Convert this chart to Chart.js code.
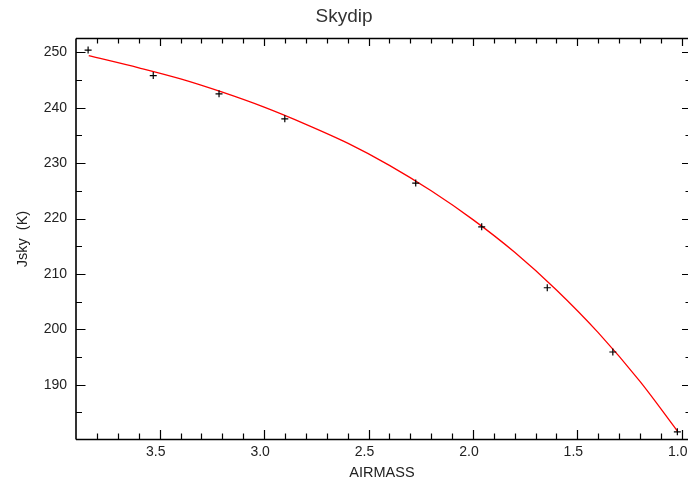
<!DOCTYPE html>
<html>
<head>
<meta charset="utf-8">
<title>Skydip</title>
<script src="https://cdn.jsdelivr.net/npm/chart.js@4.4.1/dist/chart.umd.min.js"></script>
<style>
  html, body { margin: 0; padding: 0; background: #fff; }
  #skydip { display: block; }
</style>
</head>
<body>
<canvas id="skydip" width="688" height="485"></canvas>
<script>
// measured sky temperature at each airmass
const airmass = [3.843, 3.531, 3.216, 2.901, 2.274, 1.958, 1.644, 1.330, 1.021];
const jsky = [250.4, 245.8, 242.5, 238.0, 226.4, 218.5, 207.5, 195.9, 181.5];

// fitted model curve
const fitAirmass = [3.84, 3.6, 3.4, 3.2, 3.0, 2.8, 2.6, 2.4, 2.2, 2.0, 1.8, 1.6, 1.4, 1.2, 1.02];
const fitJsky = [249.4, 247.2, 245.2, 242.8, 240.1, 237.0, 233.6, 229.6, 225.0, 219.8, 213.9, 207.1, 199.4, 190.6, 181.6];

// labelled ticks
const xTicks = [1.0, 1.5, 2.0, 2.5, 3.0, 3.5];
const yTicks = [190, 200, 210, 220, 230, 240, 250];

const FONT = "'Liberation Sans', Arial, Helvetica, sans-serif";

// axis lines (right edge sits on the canvas border) with inward tick marks
const frameTicks = {
    id: 'frameTicks',
    afterDatasetsDraw(chart) {
        const { ctx, chartArea: a, scales: { x, y } } = chart;
        ctx.save();
        ctx.strokeStyle = '#000';
        ctx.lineWidth = 1.6;
        ctx.beginPath();
        ctx.moveTo(a.left, a.top); ctx.lineTo(a.right, a.top);
        ctx.moveTo(a.left, a.top); ctx.lineTo(a.left, a.bottom);
        ctx.moveTo(a.left, a.bottom); ctx.lineTo(a.right, a.bottom);
        ctx.stroke();

        ctx.lineWidth = 1.2;
        ctx.beginPath();
        for (let i = 10; i <= 38; i++) {
            const px = Math.round(x.getPixelForValue(i / 10)) + 0.5;
            const major = i % 5 === 0;
            ctx.moveTo(px, a.bottom); ctx.lineTo(px, a.bottom - (major ? 9.5 : 6));
            ctx.moveTo(px, a.top); ctx.lineTo(px, a.top + (major ? 7.5 : 5));
        }
        for (let v = 185; v <= 250; v += 5) {
            const py = Math.round(y.getPixelForValue(v)) + 0.5;
            const major = v % 10 === 0;
            ctx.moveTo(a.left, py); ctx.lineTo(a.left + (major ? 9.5 : 6), py);
            ctx.moveTo(a.right, py); ctx.lineTo(a.right - (major ? 6 : 2.5), py);
        }
        ctx.stroke();
        ctx.restore();
    }
};

// fixed box sizes, no extra room for overhanging labels
function fitX(s) {
    s.height = 45.5;
    s.paddingLeft = 0;
    s.paddingRight = 0;
}
function fitY(s) {
    s.width = 76;
    s.paddingTop = 0;
    s.paddingBottom = 0;
}

new Chart(document.getElementById('skydip'), {
    type: 'scatter',
    data: {
        datasets: [
            {
                label: 'Jsky',
                data: airmass.map((a, i) => ({ x: a, y: jsky[i] })),
                pointStyle: 'cross',
                pointRadius: 3.5,
                pointBorderWidth: 1.2,
                borderColor: '#000',
                backgroundColor: '#000',
                showLine: false
            },
            {
                label: 'fit',
                type: 'line',
                data: fitAirmass.map((a, i) => ({ x: a, y: fitJsky[i] })),
                borderColor: '#ff0000',
                borderWidth: 1.3,
                pointRadius: 0,
                cubicInterpolationMode: 'monotone',
                fill: false
            }
        ]
    },
    options: {
        responsive: false,
        animation: false,
        layout: { padding: 0, autoPadding: false },
        plugins: {
            legend: { display: false },
            tooltip: { enabled: false },
            title: {
                display: true,
                text: 'Skydip',
                color: '#333',
                font: { family: FONT, size: 19, weight: 'normal', lineHeight: 1.2 },
                padding: { top: 5, bottom: 10.7 }
            }
        },
        scales: {
            x: {
                type: 'linear',
                reverse: true,
                min: 0.970,
                max: 3.901,
                afterBuildTicks: s => { s.ticks = xTicks.map(v => ({ value: v })); },
                afterFit: fitX,
                grid: { display: false, drawTicks: false },
                border: { display: false },
                ticks: {
                    color: '#222',
                    padding: 4,
                    labelOffset: -4,
                    maxRotation: 0,
                    autoSkip: false,
                    font: { family: FONT, size: 14 },
                    callback: v => Number(v).toFixed(1)
                },
                title: {
                    display: true,
                    text: 'AIRMASS',
                    color: '#222',
                    font: { family: FONT, size: 14.5, lineHeight: 1.2 },
                    padding: { top: 0, bottom: 3.3 }
                }
            },
            y: {
                type: 'linear',
                min: 180.11,
                max: 252.49,
                afterBuildTicks: s => { s.ticks = yTicks.map(v => ({ value: v })); },
                afterFit: fitY,
                grid: { display: false, drawTicks: false },
                border: { display: false },
                ticks: {
                    color: '#222',
                    padding: 9,
                    autoSkip: false,
                    font: { family: FONT, size: 14 }
                },
                title: {
                    display: true,
                    text: 'Jsky  (K)',
                    color: '#222',
                    font: { family: FONT, size: 14.5, lineHeight: 1.2 },
                    padding: { top: 14, bottom: 0 }
                }
            }
        }
    },
    plugins: [frameTicks]
});
</script>
</body>
</html>
